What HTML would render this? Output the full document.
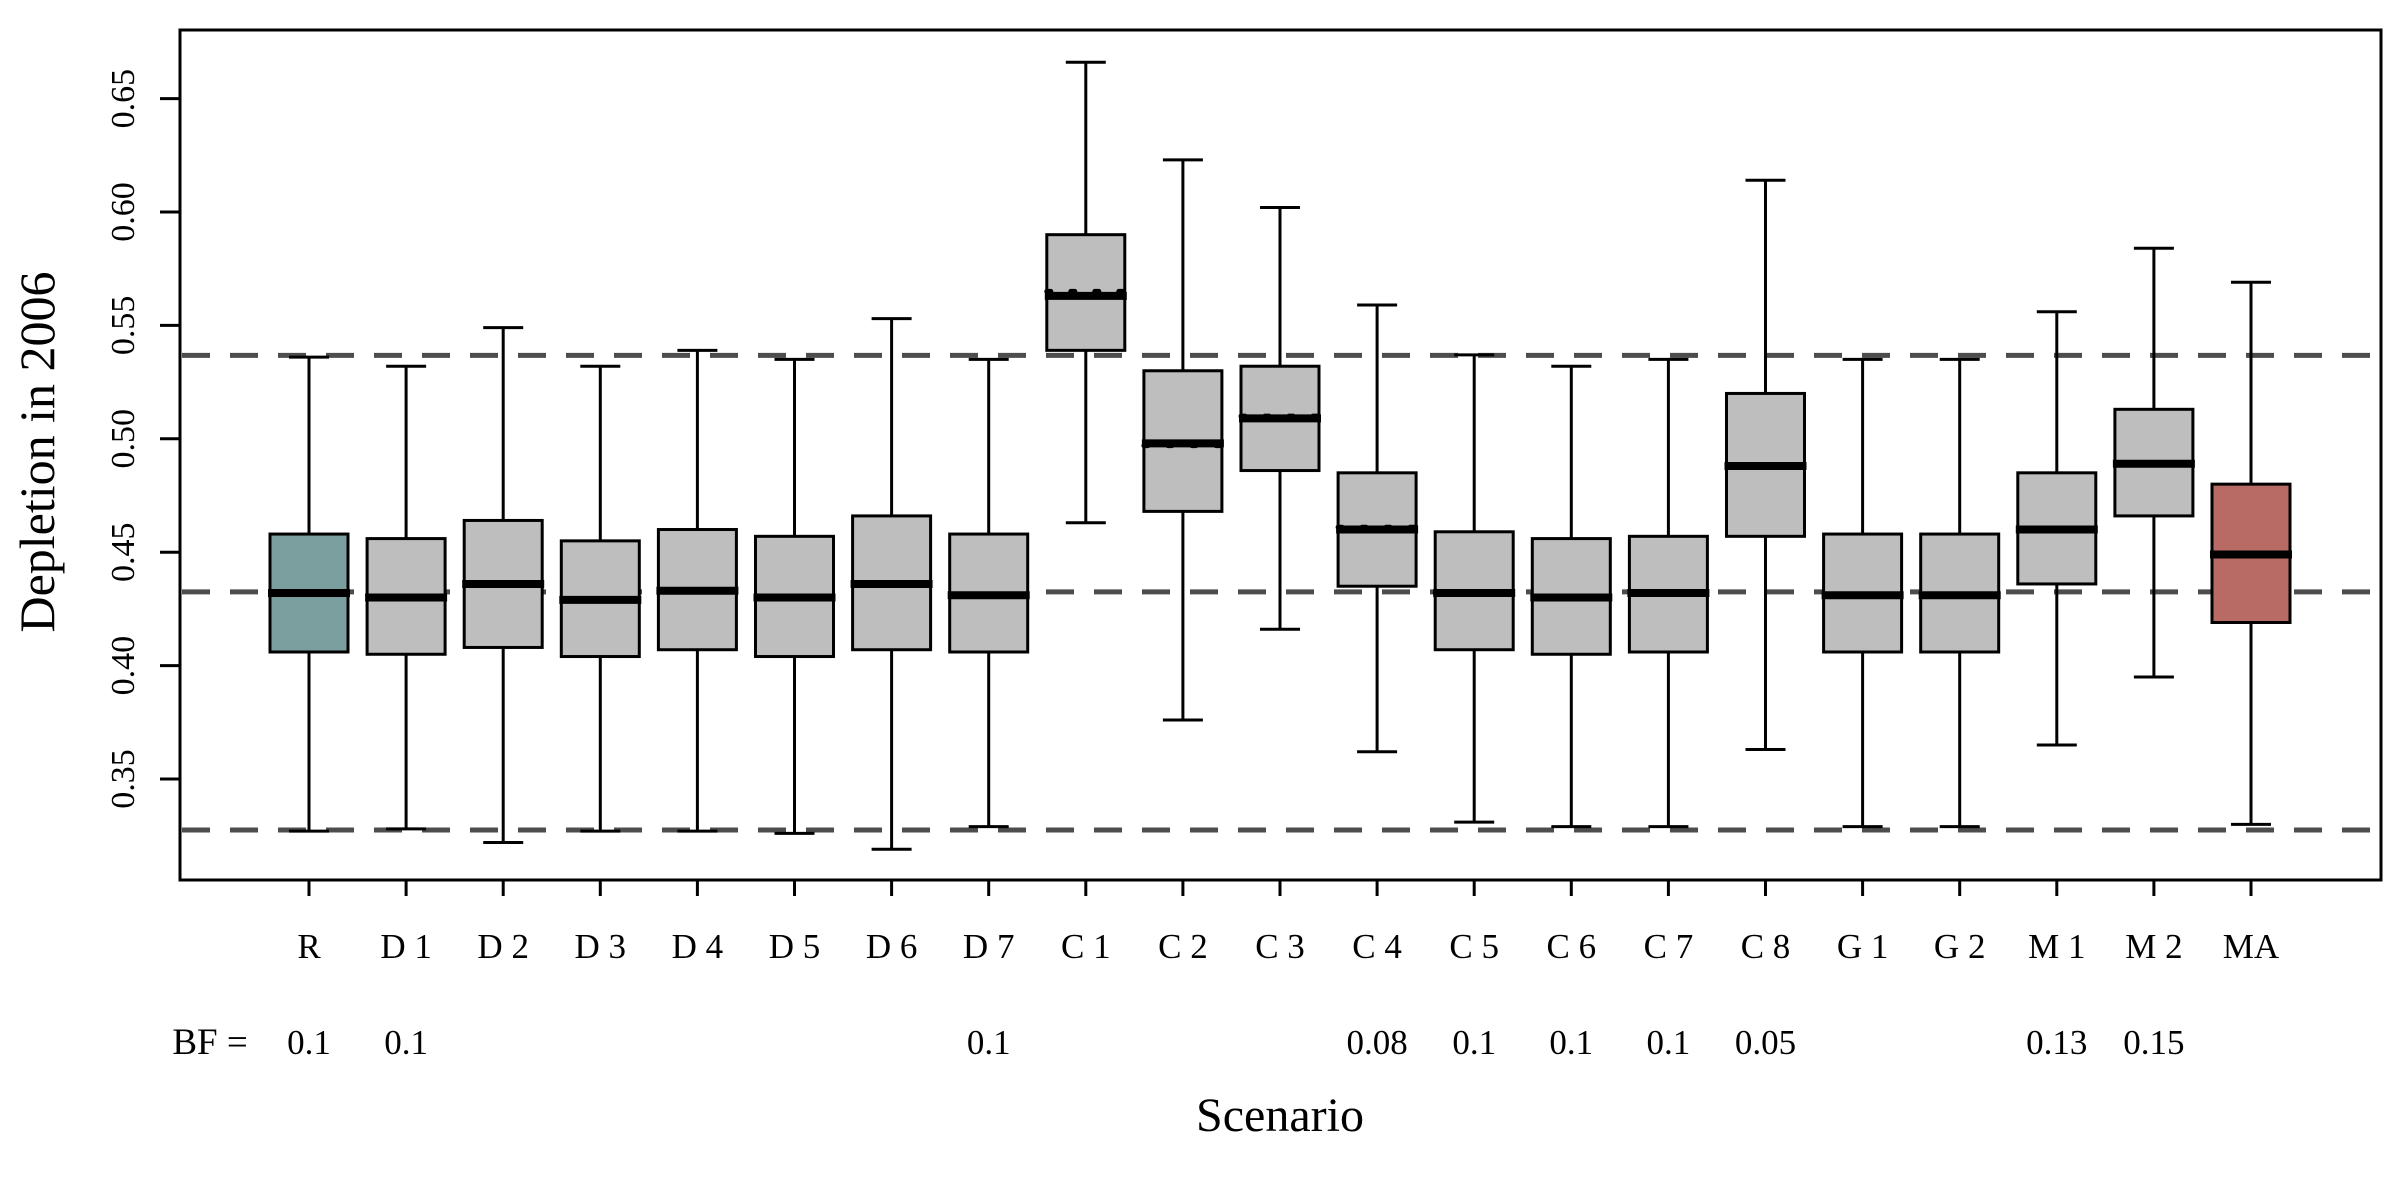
<!DOCTYPE html>
<html><head><meta charset="utf-8"><style>
html,body{margin:0;padding:0;background:#fff;}
svg{display:block;font-family:"Liberation Serif",serif;}
</style></head><body>
<svg id="chart" width="2400" height="1181" viewBox="0 0 2400 1181">
</svg>
<script>
const categories=["R","D 1","D 2","D 3","D 4","D 5","D 6","D 7","C 1","C 2","C 3","C 4","C 5","C 6","C 7","C 8","G 1","G 2","M 1","M 2","MA"];
const whiskerHigh=[0.536,0.532,0.549,0.532,0.539,0.535,0.553,0.535,0.666,0.623,0.602,0.559,0.537,0.532,0.535,0.614,0.535,0.535,0.556,0.584,0.569];
const q3=[0.458,0.456,0.464,0.455,0.460,0.457,0.466,0.458,0.590,0.530,0.532,0.485,0.459,0.456,0.457,0.520,0.458,0.458,0.485,0.513,0.480];
const medians=[0.432,0.430,0.436,0.429,0.433,0.430,0.436,0.431,0.563,0.498,0.509,0.460,0.432,0.430,0.432,0.488,0.431,0.431,0.460,0.489,0.449];
const means=[null,null,null,null,null,null,null,null,0.565,0.497,0.510,0.461,0.432,null,null,null,null,null,null,null,null];
const q1=[0.406,0.405,0.408,0.404,0.407,0.404,0.407,0.406,0.539,0.468,0.486,0.435,0.407,0.405,0.406,0.457,0.406,0.406,0.436,0.466,0.419];
const whiskerLow=[0.327,0.328,0.322,0.327,0.327,0.326,0.319,0.329,0.463,0.376,0.416,0.362,0.331,0.329,0.329,0.363,0.329,0.329,0.365,0.395,0.330];
const bfValues=["0.1","0.1","","","","","","0.1","","","","0.08","0.1","0.1","0.1","0.05","","","0.13","0.15",""];
const refLines=[0.5368,0.4325,0.3275];
const yTicks=[0.35,0.40,0.45,0.50,0.55,0.60,0.65];
const yTickLabels=["0.35","0.40","0.45","0.50","0.55","0.60","0.65"];

const NS="http://www.w3.org/2000/svg";
const svg=document.getElementById('chart');
const L=180,R=2381,T=30,B=880;
function y(v){return 779-(v-0.35)*2268;}
function x(i){return 309+i*97.1;}
function mk(tag,attrs,parent){const e=document.createElementNS(NS,tag);for(const k in attrs)e.setAttribute(k,attrs[k]);(parent||svg).appendChild(e);return e;}

// reference dashed lines (behind boxes)
refLines.forEach((v,k)=>{
  const l=mk('line',{x1:L+2,x2:R-2,y1:y(v),y2:y(v),stroke:'#4d4d4d','stroke-width':5,'stroke-dasharray':'28 20'});
  
  
});

// boxes
categories.forEach((c,i)=>{
  const g=mk('g',{});
  
  
  const cx=x(i),hw=39,cw=20;
  const fill=i===0?'#7b9f9f':(i===categories.length-1?'#b86b64':'#bebebe');
  mk('line',{x1:cx,x2:cx,y1:y(whiskerHigh[i]),y2:y(q3[i]),stroke:'#000','stroke-width':3},g);
  mk('line',{x1:cx,x2:cx,y1:y(q1[i]),y2:y(whiskerLow[i]),stroke:'#000','stroke-width':3},g);
  mk('line',{x1:cx-cw,x2:cx+cw,y1:y(whiskerHigh[i]),y2:y(whiskerHigh[i]),stroke:'#000','stroke-width':3},g);
  mk('line',{x1:cx-cw,x2:cx+cw,y1:y(whiskerLow[i]),y2:y(whiskerLow[i]),stroke:'#000','stroke-width':3},g);
  mk('rect',{x:cx-hw,y:y(q3[i]),width:2*hw,height:y(q1[i])-y(q3[i]),fill:fill,stroke:'#000','stroke-width':3},g);
  mk('line',{x1:cx-hw-2,x2:cx+hw+2,y1:y(medians[i]),y2:y(medians[i]),stroke:'#000','stroke-width':8},g);
  if(means[i]!==null){
    mk('line',{x1:cx-hw,x2:cx+hw,y1:y(means[i]),y2:y(means[i]),stroke:'#000','stroke-width':5,'stroke-dasharray':'4 20','stroke-linecap':'round'},g);
  }
});

// frame
let fr=mk('rect',{x:L,y:T,width:R-L,height:B-T,fill:'none',stroke:'#000','stroke-width':3});



// y axis
yTicks.forEach((v,k)=>{
  mk('line',{x1:L-20,x2:L,y1:y(v),y2:y(v),stroke:'#000','stroke-width':3});
  const t=mk('text',{x:0,y:0,transform:'translate(134,'+y(v)+') rotate(-90)','text-anchor':'middle','font-size':34});
  
  
  t.textContent=yTickLabels[k];
});
// x axis
categories.forEach((c,i)=>{
  mk('line',{x1:x(i),x2:x(i),y1:B,y2:B+16,stroke:'#000','stroke-width':3});
  const t=mk('text',{x:x(i),y:958,'text-anchor':'middle','font-size':35});
  
  
  t.textContent=c;
  if(bfValues[i]){
    const b=mk('text',{x:x(i),y:1054,'text-anchor':'middle','font-size':35});
    
    
    b.textContent=bfValues[i];
  }
});
let bf=mk('text',{x:210,y:1054,'text-anchor':'middle','font-size':37});


bf.textContent='BF =';
let xt=mk('text',{x:1280,y:1131,'text-anchor':'middle','font-size':48});


xt.textContent='Scenario';
let yt=mk('text',{x:0,y:0,transform:'translate(54,452) rotate(-90)','text-anchor':'middle','font-size':50});


yt.textContent='Depletion in 2006';
</script>
</body></html>
